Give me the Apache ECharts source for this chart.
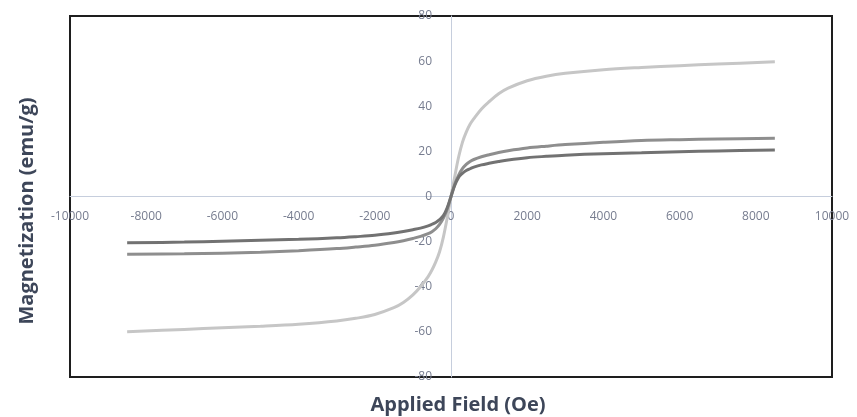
<!DOCTYPE html>
<html>
<head>
<meta charset="utf-8">
<script src="https://cdn.jsdelivr.net/npm/echarts@6/dist/echarts.min.js"></script>
<style>
  html, body { margin: 0; padding: 0; background: #ffffff; }
  #chart { width: 857px; height: 417px; }
</style>
</head>
<body>
<div id="chart"></div>
<script>
// Applied field (Oe) sample points for the M–H curves
const field = [-8500, -7000, -6000, -5000, -4000, -3000, -2500, -2000, -1500, -1250, -1000, -800, -600, -500, -400, -300, -200, -100, 0,
               100, 200, 300, 400, 500, 600, 800, 1000, 1250, 1500, 2000, 2500, 3000, 4000, 5000, 6000, 7000, 8500];

// Magnetization (emu/g) for each sample
const sampleHigh = [-59.9, -58.9, -58.2, -57.5, -56.6, -55.2, -54.0, -52.3, -49.3, -47.0, -43.6, -40.0, -35.5, -32.6, -29.0, -24.5, -18.0, -9.5, 0,
                    9.0, 17.5, 24.0, 28.5, 32.0, 34.5, 38.8, 42.0, 45.5, 48.0, 51.3, 53.3, 54.6, 56.2, 57.2, 58.0, 58.7, 59.7];
const sampleMid  = [-25.6, -25.4, -25.1, -24.7, -24.0, -23.1, -22.4, -21.6, -20.4, -19.6, -18.6, -17.7, -16.5, -15.6, -14.3, -12.4, -9.6, -5.6, 0,
                    5.5, 9.5, 12.3, 14.2, 15.5, 16.4, 17.6, 18.5, 19.5, 20.3, 21.5, 22.3, 23.0, 24.0, 24.8, 25.2, 25.5, 25.8];
const sampleLow  = [-20.5, -20.2, -19.8, -19.4, -19.0, -18.3, -17.8, -17.2, -16.2, -15.5, -14.7, -14.0, -13.0, -12.3, -11.5, -10.3, -8.5, -5.0, 0,
                    5.0, 8.5, 10.3, 11.5, 12.3, 13.0, 14.0, 14.7, 15.5, 16.2, 17.2, 17.8, 18.3, 19.0, 19.4, 19.8, 20.2, 20.6];

// Axis tick values
const xTicks = [-10000, -8000, -6000, -4000, -2000, 0, 2000, 4000, 6000, 8000, 10000];
const yTicks = [-80, -60, -40, -20, 0, 20, 40, 60, 80];

const pairs = ys => field.map((x, i) => [x, ys[i]]);

const W = 857, H = 417;
const gridBox = { left: 70, right: 25, top: 16, bottom: 40 };
// axes cross at the origin, which sits at the centre of the plot box
const yAxisShift = -(W - gridBox.left - gridBox.right) / 2;
const xAxisShift = -(H - gridBox.top - gridBox.bottom) / 2;

const labelColor = '#767c8f';
const titleColor = '#3d4659';
const axisLineColor = '#c6cedd';

const chart = echarts.init(document.getElementById('chart'), null, { renderer: 'canvas' });

chart.setOption({
  animation: false,
  backgroundColor: '#ffffff',
  grid: Object.assign({}, gridBox, {
    show: true,
    borderColor: '#1e1e1e',
    borderWidth: 2,
    backgroundColor: 'transparent'
  }),
  xAxis: {
    type: 'value',
    position: 'bottom',
    offset: xAxisShift,
    min: xTicks[0],
    max: xTicks[xTicks.length - 1],
    interval: xTicks[1] - xTicks[0],
    axisLine: { show: true, onZero: false, lineStyle: { color: axisLineColor, width: 1 } },
    axisTick: { show: false },
    splitLine: { show: false },
    axisLabel: {
      color: labelColor,
      fontFamily: 'Open Sans',
      fontSize: 12,
      margin: 14,
      showMinLabel: true,
      showMaxLabel: true,
      formatter: v => String(v)
    }
  },
  yAxis: {
    type: 'value',
    position: 'left',
    offset: yAxisShift,
    min: yTicks[0],
    max: yTicks[yTicks.length - 1],
    interval: yTicks[1] - yTicks[0],
    axisLine: { show: true, onZero: false, lineStyle: { color: axisLineColor, width: 1 } },
    axisTick: { show: false },
    splitLine: { show: false },
    axisLabel: {
      color: labelColor,
      fontFamily: 'Open Sans',
      fontSize: 12,
      margin: 19,
      showMinLabel: true,
      showMaxLabel: true,
      formatter: v => String(v)
    }
  },
  graphic: [
    {
      type: 'text',
      x: 458,
      y: 405,
      style: {
        text: 'Applied Field (Oe)',
        fill: titleColor,
        font: 'bold 20px "Open Sans"',
        textAlign: 'center',
        textVerticalAlign: 'middle'
      }
    },
    {
      type: 'text',
      x: 27,
      y: 211,
      rotation: Math.PI / 2,
      style: {
        text: 'Magnetization (emu/g)',
        fill: titleColor,
        font: 'bold 20px "Open Sans"',
        textAlign: 'center',
        textVerticalAlign: 'middle'
      }
    }
  ],
  series: [
    {
      name: 'high',
      type: 'line',
      data: pairs(sampleHigh),
      smooth: 0.35,
      showSymbol: false,
      lineStyle: { color: '#c6c6c6', width: 3 },
      z: 2
    },
    {
      name: 'mid',
      type: 'line',
      data: pairs(sampleMid),
      smooth: 0.35,
      showSymbol: false,
      lineStyle: { color: '#8e8e8e', width: 3 },
      z: 3
    },
    {
      name: 'low',
      type: 'line',
      data: pairs(sampleLow),
      smooth: 0.35,
      showSymbol: false,
      lineStyle: { color: '#727272', width: 3 },
      z: 4
    }
  ]
});
</script>
</body>
</html>
